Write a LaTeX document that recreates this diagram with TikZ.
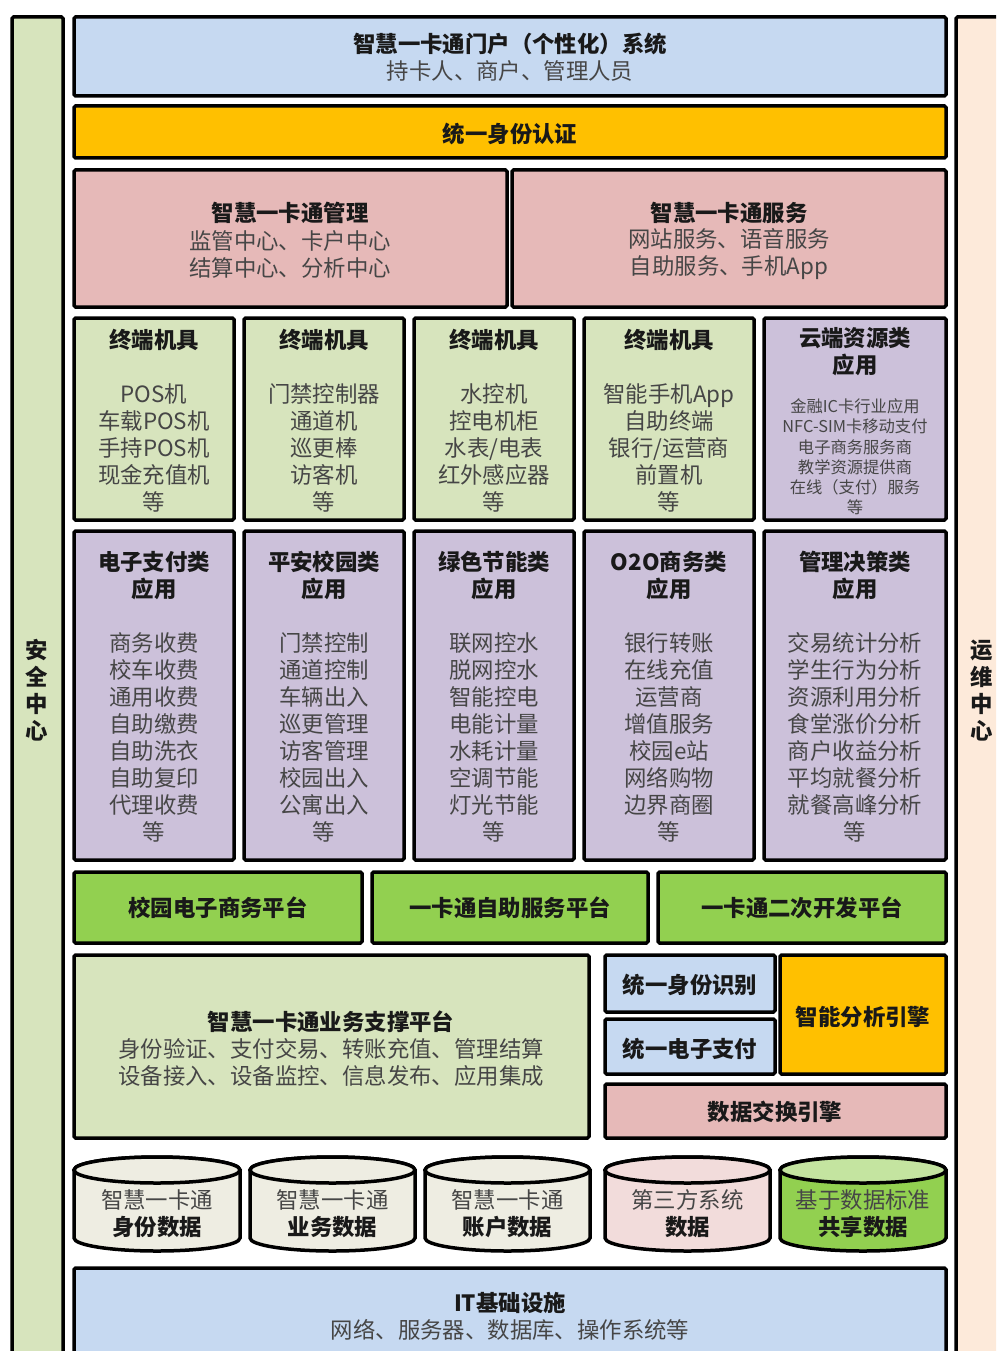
\documentclass[tikz,border=0pt]{standalone}
\usepackage{fontspec}
\setmainfont{Noto Sans CJK SC}
\definecolor{blueC}{RGB}{198,217,241}
\definecolor{orangeC}{RGB}{255,192,0}
\definecolor{pinkC}{RGB}{230,185,184}
\definecolor{lgreenC}{RGB}{215,228,189}
\definecolor{purpleC}{RGB}{204,193,218}
\definecolor{greenC}{RGB}{146,208,80}
\definecolor{peachC}{RGB}{253,234,218}
\definecolor{beigeC}{RGB}{238,237,226}
\definecolor{tpC}{RGB}{242,220,219}
\definecolor{topgreenC}{RGB}{196,228,160}
\definecolor{titlec}{RGB}{25,25,25}
\definecolor{bodyc}{RGB}{70,70,70}
\newcommand\bx[6]{%
  \node[box,fill=#6,minimum width={(#4-#2)*1pt},minimum height={(#5-#3)*1pt}] (#1) at ({(#2+#4)/2},{(#3+#5)/2}) {};}
\newcommand\dbcyl[6]{%
  \pgfmathsetmacro\cx{(#1+#2)/2}\pgfmathsetmacro\rx{(#2-#1)/2}%
  \draw[line,fill=#3] (#1,1170) -- (#1,1238) arc[start angle=180,end angle=0,x radius=\rx,y radius=13] -- (#2,1170) arc[start angle=0,end angle=-180,x radius=\rx,y radius=13] -- cycle;
  \draw[line,fill=#4] (\cx,1170) ellipse[x radius=\rx,y radius=13];
  \node[bt] (#5) at (\cx,1213.5) {#6};}
\begin{document}
\begin{tikzpicture}[x=1pt,y=-1pt,
  line/.style={draw=black,line width=3.5pt},
  box/.style={line,rounded corners=1.5pt,inner sep=0pt,outer sep=0pt},
  tt/.style={font=\fontsize{22.4}{27}\selectfont\bfseries,text=titlec,align=center,inner sep=0pt},
  bt/.style={font=\fontsize{22.4}{27}\selectfont,text=bodyc,align=center,inner sep=0pt},
  st/.style={font=\fontsize{16.3}{20.2}\selectfont,text=bodyc,align=center,inner sep=0pt}]
\useasboundingbox (0,0) rectangle (996,1351);
\fill[white] (0,0) rectangle (996,1351);
\clip (0,0) rectangle (996,1351);
% side bars
\bx{safe}{12}{17}{63}{1420}{lgreenC}
\bx{ops}{956}{17}{1040}{1420}{peachC}
\node[tt] (safet) at (37,690.5) {安\\全\\中\\心};
\node[tt] (opst) at (982,690.5) {运\\维\\中\\心};
% portal
\bx{portal}{74}{17}{946}{96}{blueC}
\node[tt] (portalt) at (510,44) {智慧一卡通门户（个性化）系统};
\node[bt] (portals) at (510,71) {持卡人、商户、管理人员};
% auth
\bx{auth}{74}{106}{946}{158}{orangeC}
\node[tt] (autht) at (510,134) {统一身份认证};
% management / service
\bx{mgmt}{74}{170}{507}{307}{pinkC}
\node[tt] (mgmtt) at (290,213) {智慧一卡通管理};
\node[bt] (mgmts) at (290,254.5) {监管中心、卡户中心\\结算中心、分析中心};
\bx{serv}{512}{170}{946}{307}{pinkC}
\node[tt] (servt) at (729,213) {智慧一卡通服务};
\node[bt] (servs) at (729,254.5) {网站服务、语音服务\\自助服务、手机App};
% row 1 terminals
\bx{t1}{74}{318}{234}{520}{lgreenC}
\bx{t2}{244}{318}{404}{520}{lgreenC}
\bx{t3}{414}{318}{574}{520}{lgreenC}
\bx{t4}{584}{318}{754}{520}{lgreenC}
\bx{t5}{764}{318}{946}{520}{purpleC}
\node[tt] (t1t) at (154,340) {终端机具};
\node[tt] (t2t) at (324,340) {终端机具};
\node[tt] (t3t) at (494,340) {终端机具};
\node[tt] (t4t) at (669,340) {终端机具};
\node[tt] (t5t) at (855,351.5) {云端资源类\\应用};
\node[bt] (t1s) at (154,448) {POS机\\车载POS机\\手持POS机\\现金充值机\\等};
\node[bt] (t2s) at (324,448) {门禁控制器\\通道机\\巡更棒\\访客机\\等};
\node[bt] (t3s) at (494,448) {水控机\\控电机柜\\水表/电表\\红外感应器\\等};
\node[bt] (t4s) at (669,448) {智能手机App\\自助终端\\银行/运营商\\前置机\\等};
\node[st] (t5s) at (855,457) {金融IC卡行业应用\\NFC-SIM卡移动支付\\电子商务服务商\\教学资源提供商\\在线（支付）服务\\等};
% row 2 applications
\bx{a1}{74}{531}{234}{860}{purpleC}
\bx{a2}{244}{531}{404}{860}{purpleC}
\bx{a3}{414}{531}{574}{860}{purpleC}
\bx{a4}{584}{531}{754}{860}{purpleC}
\bx{a5}{764}{531}{946}{860}{purpleC}
\node[tt] (a1t) at (154,575.5) {电子支付类\\应用};
\node[tt] (a2t) at (324,575.5) {平安校园类\\应用};
\node[tt] (a3t) at (494,575.5) {绿色节能类\\应用};
\node[tt] (a4t) at (669,575.5) {O2O商务类\\应用};
\node[tt] (a5t) at (855,575.5) {管理决策类\\应用};
\node[bt] (a1s) at (154,737) {商务收费\\校车收费\\通用收费\\自助缴费\\自助洗衣\\自助复印\\代理收费\\等};
\node[bt] (a2s) at (324,737) {门禁控制\\通道控制\\车辆出入\\巡更管理\\访客管理\\校园出入\\公寓出入\\等};
\node[bt] (a3s) at (494,737) {联网控水\\脱网控水\\智能控电\\电能计量\\水耗计量\\空调节能\\灯光节能\\等};
\node[bt] (a4s) at (669,737) {银行转账\\在线充值\\运营商\\增值服务\\校园e站\\网络购物\\边界商圈\\等};
\node[bt] (a5s) at (855,737) {交易统计分析\\学生行为分析\\资源利用分析\\食堂涨价分析\\商户收益分析\\平均就餐分析\\就餐高峰分析\\等};
% platforms
\bx{p1}{74}{872}{362}{943}{greenC}
\bx{p2}{372}{872}{648}{943}{greenC}
\bx{p3}{658}{872}{946}{943}{greenC}
\node[tt] (p1t) at (218,908) {校园电子商务平台};
\node[tt] (p2t) at (510,908) {一卡通自助服务平台};
\node[tt] (p3t) at (802,908) {一卡通二次开发平台};
% support
\bx{sup}{74}{955}{589}{1138}{lgreenC}
\node[tt] (supt) at (331,1022) {智慧一卡通业务支撑平台};
\node[bt] (sups) at (331,1062.5) {身份验证、支付交易、转账充值、管理结算\\设备接入、设备监控、信息发布、应用集成};
\bx{uid}{605}{955}{775}{1012}{blueC}
\bx{upay}{605}{1019}{775}{1074}{blueC}
\bx{ana}{780}{955}{946}{1074}{orangeC}
\bx{exch}{605}{1084}{946}{1138}{pinkC}
\node[tt] (uidt) at (690,985) {统一身份识别};
\node[tt] (upayt) at (690,1049) {统一电子支付};
\node[tt] (anat) at (863,1017) {智能分析引擎};
\node[tt] (excht) at (775,1112) {数据交换引擎};
% databases
\dbcyl{74}{240}{beigeC}{beigeC}{d1}{智慧一卡通\\\textbf{\color{titlec}身份数据}}
\dbcyl{250}{415}{beigeC}{beigeC}{d2}{智慧一卡通\\\textbf{\color{titlec}业务数据}}
\dbcyl{425}{590}{beigeC}{beigeC}{d3}{智慧一卡通\\\textbf{\color{titlec}账户数据}}
\dbcyl{605}{770}{tpC}{tpC}{d4}{第三方系统\\\textbf{\color{titlec}数据}}
\dbcyl{780}{946}{greenC}{topgreenC}{d5}{基于数据标准\\\textbf{\color{titlec}共享数据}}
% IT infrastructure
\bx{it}{74}{1268}{946}{1420}{blueC}
\node[tt] (itt) at (510,1303) {IT基础设施};
\node[bt] (its) at (510,1330) {网络、服务器、数据库、操作系统等};
\end{tikzpicture}
\end{document}
